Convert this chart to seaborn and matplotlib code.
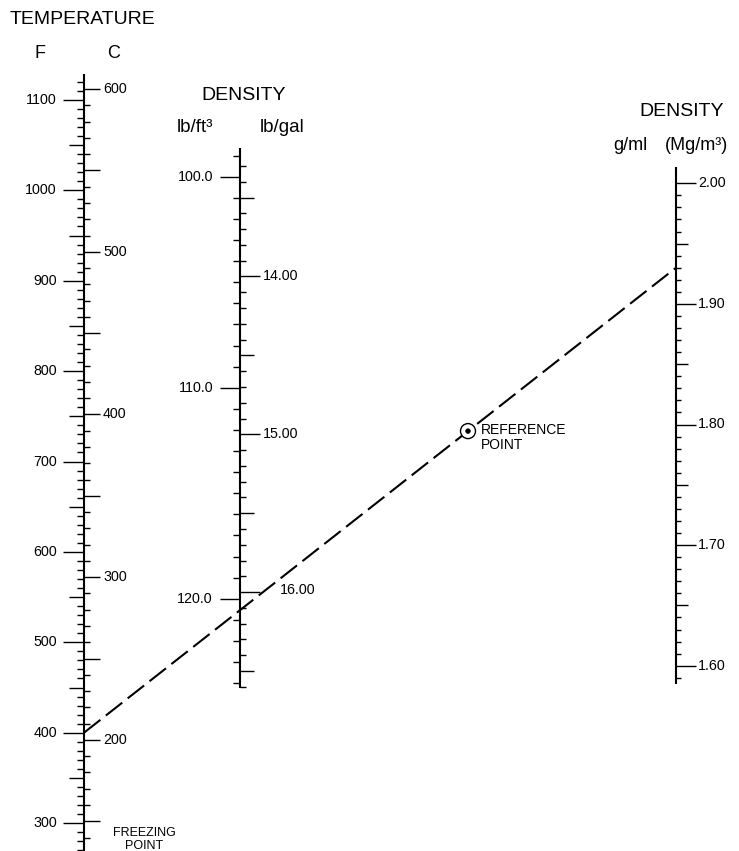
import numpy as np
import pandas as pd
import matplotlib
matplotlib.use("Agg")
import matplotlib.pyplot as plt
import seaborn as sns

# ---------------- data (scale graduations and the worked reading) ----------------
F_LABELS = [300, 400, 500, 600, 700, 800, 900, 1000, 1100]
F_TICKS = list(range(260, 1130, 10))
C_LABELS = [200, 300, 400, 500, 600]
C_TICKS = list(range(130, 610, 10))
LBFT3_LABELS = [100.0, 110.0, 120.0]
LBFT3_TICKS = list(range(99, 125))
LBGAL_LABELS = [14.00, 15.00, 16.00]
LBGAL_TICKS = [round(v, 1) for v in np.arange(13.3, 16.65, 0.1)]
GML_LABELS = [1.60, 1.70, 1.80, 1.90, 2.00]
GML_TICKS = [round(v, 2) for v in np.arange(1.59, 2.005, 0.01)]
FREEZING_C = 150
READ_TEMP_F = 400          # temperature reading (F)
READ_DENSITY_GML = 1.93    # resulting density (g/ml)

# ---------------- layout (pixel geometry of the nomogram) ----------------
W, H = 739, 851
X_T, X_M, X_R = 84, 240, 676
REF_X = 468

def y_F(f):
    return 461.5 - 0.9040 * (np.asarray(f, float) - 700)

def y_C(c):
    return y_F(np.asarray(c, float) * 9 / 5 + 32)

def y_LB(v):
    return 176.7 + (np.asarray(v, float) - 100) * 21.1

def y_GAL(g):
    return y_LB(np.asarray(g, float) * 7.48052)

def y_GML(d):
    return 183.3 + (2.0 - np.asarray(d, float)) * 1206

sns.set_theme(style="white")
plt.rcParams["font.family"] = ["Liberation Sans", "DejaVu Sans"]
plt.rcParams["lines.scale_dashes"] = False

fig = plt.figure(figsize=(W / 100, H / 100), dpi=100)
ax = fig.add_axes([0, 0, 1, 1])

K = "black"
AXLW = 1.5
TKLW = 1.0
TICKFS = 10.3

def ticks(x, ys, lens, side):
    ys = np.asarray(ys, float)
    lens = np.asarray(lens, float)
    ax.hlines(ys, x, x + side * lens, colors=K, lw=TKLW)

# ---------- temperature scale ----------
ax.vlines(X_T, 74, H + 5, colors=K, lw=AXLW)
fl = [21 if f % 100 == 0 else (15 if f % 50 == 0 else 7) for f in F_TICKS]
ticks(X_T, y_F(F_TICKS), fl, -1)
cl = [16 if c % 50 == 0 else 6 for c in C_TICKS]
ticks(X_T, y_C(C_TICKS), cl, +1)
for f in F_LABELS:
    ax.text(57, y_F(f), f"{f}", ha="right", va="center", fontsize=TICKFS, color=K)
for c in C_LABELS:
    ax.text(103, y_C(c), f"{c}", ha="left", va="center", fontsize=TICKFS, color=K)
yfz = float(y_C(FREEZING_C))
ax.text(144, yfz + 11.5, "FREEZING", ha="center", va="center", fontsize=9, color=K)
ax.text(144, yfz + 24.5, "POINT", ha="center", va="center", fontsize=9, color=K)

# ---------- middle density scale ----------
ax.vlines(X_M, y_LB(98.64), y_LB(124.23), colors=K, lw=AXLW)
ll = [20 if v % 10 == 0 else 7 for v in LBFT3_TICKS]
ticks(X_M, y_LB(LBFT3_TICKS), ll, -1)
gl = [20 if round(g * 10) % 10 == 0 else (14 if round(g * 10) % 5 == 0 else 6)
      for g in LBGAL_TICKS]
ticks(X_M, y_GAL(LBGAL_TICKS), gl, +1)
for v in LBFT3_LABELS:
    ax.text(213, y_LB(v), f"{v:.1f}", ha="right", va="center", fontsize=TICKFS, color=K)
for g in LBGAL_LABELS:
    xo = 280 if g == 16.00 else 263
    ax.text(xo, y_GAL(g) - (2 if g == 16.00 else 0), f"{g:.2f}", ha="left",
            va="center", fontsize=TICKFS, color=K)

# ---------- right density scale ----------
ax.vlines(X_R, y_GML(2.0135), y_GML(1.5848), colors=K, lw=AXLW)
rl = [20 if round(d * 100) % 10 == 0 else (12 if round(d * 100) % 5 == 0 else 5)
      for d in GML_TICKS]
ticks(X_R, y_GML(GML_TICKS), rl, +1)
for d in GML_LABELS:
    ax.text(698, y_GML(d), f"{d:.2f}", ha="left", va="center", fontsize=TICKFS, color=K)

# ---------- titles ----------
ax.text(10, 20, "TEMPERATURE", ha="left", va="center", fontsize=14, color=K)
ax.text(40, 53, "F", ha="center", va="center", fontsize=13, color=K)
ax.text(114, 53, "C", ha="center", va="center", fontsize=13, color=K)
ax.text(244, 95, "DENSITY", ha="center", va="center", fontsize=14, color=K)
ax.text(195, 127, "lb/ft³", ha="center", va="center", fontsize=13.5, color=K)
ax.text(282, 127, "lb/gal", ha="center", va="center", fontsize=13.5, color=K)
ax.text(682, 112, "DENSITY", ha="center", va="center", fontsize=14, color=K)
ax.text(630, 146, "g/ml", ha="center", va="center", fontsize=13, color=K)
ax.text(697, 146, "(Mg/m³)", ha="center", va="center", fontsize=13, color=K)

# ---------- worked reading: dashed isopleth ----------
line = pd.DataFrame({
    "x": [X_T, X_R],
    "y": [float(y_F(READ_TEMP_F)), float(y_GML(READ_DENSITY_GML))],
})
sns.lineplot(data=line, x="x", y="y", ax=ax, color=K, lw=1.5,
             linestyle=(0, (15, 5)), sort=False, legend=False)

ref_y = float(np.interp(REF_X, line["x"], line["y"]))
ax.add_patch(plt.Circle((REF_X, ref_y), 7.5, facecolor="white", edgecolor=K,
                        lw=1.0, zorder=5))
ax.add_patch(plt.Circle((REF_X, ref_y), 2.3, facecolor=K, edgecolor=K,
                        lw=0.5, zorder=6))
ax.text(REF_X + 13, ref_y - 1, "REFERENCE", ha="left", va="center",
        fontsize=10, color=K)
ax.text(REF_X + 13, ref_y + 14, "POINT", ha="left", va="center",
        fontsize=10, color=K)

ax.set_xlim(0, W)
ax.set_ylim(H, 0)
ax.axis("off")

fig.savefig("out.png", dpi=100)
